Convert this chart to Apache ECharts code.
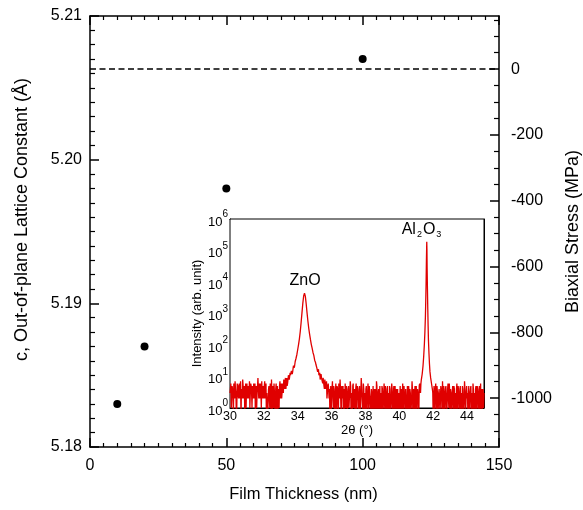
<!DOCTYPE html>
<html>
<head>
<meta charset="utf-8">
<script src="https://cdn.jsdelivr.net/npm/echarts@6/dist/echarts.min.js"></script>
<style>
html,body{margin:0;padding:0;background:#fff;overflow:hidden;}
#chart{width:583px;height:510px;}
</style>
</head>
<body>
<div id="chart"></div>
<script>
// Main chart data
const filmThickness = [10, 20, 50, 100];          // nm
const latticeC = [5.183, 5.187, 5.198, 5.207];     // Angstrom
const xTicks = [0, 50, 100, 150];
const cTicks = [5.18, 5.19, 5.20, 5.21];
const stressTicks = [-1000, -800, -600, -400, -200, 0];
const stressMinorTicks = [-1100, -1050, -950, -900, -850, -750, -700, -650, -550, -500, -450, -350, -300, -250, -150, -100, -50, 50, 100, 150];
const stressZeroLine = [0];
// stress axis range corresponding to c = 5.18 .. 5.21
const stressRange = [-1148.5, 161.6];

// Inset: XRD scan [2theta (deg), intensity (counts)]
const xrdScan = [
[30.00,3],[30.05,6],[30.10,2],[30.15,5],[30.20,0.5],[30.25,4],[30.30,7],[30.35,3],[30.40,1],[30.45,5],
[30.50,2],[30.55,6],[30.60,4],[30.65,0.5],[30.70,3],[30.75,8],[30.80,2],[30.85,5],[30.90,3],[30.95,1],
[31.00,6],[31.05,4],[31.10,2],[31.15,7],[31.20,3],[31.25,5],[31.30,1],[31.35,4],[31.40,6],[31.45,2],
[31.50,0.5],[31.55,5],[31.60,3],[31.65,9],[31.70,2],[31.75,4],[31.80,6],[31.85,1],[31.90,3],[31.95,5],
[32.00,2],[32.05,7],[32.10,4],[32.15,0.5],[32.20,3],[32.25,0.5],[32.30,5],[32.35,1],[32.40,4],[32.45,8],
[32.50,0.5],[32.55,2],[32.60,6],[32.65,1],[32.70,4],[32.75,0.5],[32.80,5],[32.85,3],[32.90,1],[32.95,7],
[33.00,4],[33.05,2],[33.10,6],[33.15,3],[33.20,5],
[33.25,7],[33.30,4],[33.35,9],[33.40,6],[33.45,11],[33.50,8],[33.55,13],[33.60,10],[33.65,17],[33.70,14],
[33.75,22],[33.80,19],[33.85,30],[33.90,38],[33.95,50],[34.00,72],[34.05,105],[34.10,160],[34.15,270],[34.20,520],
[34.25,1050],[34.30,2100],[34.35,3600],[34.40,4400],[34.45,3500],[34.50,2000],[34.55,1050],[34.60,580],[34.65,340],[34.70,220],
[34.75,150],[34.80,105],[34.85,80],[34.90,58],[34.95,47],[35.00,33],[35.05,28],[35.10,22],[35.15,18],[35.20,15],
[35.25,11],[35.30,13],[35.35,9],[35.40,11],[35.45,7],[35.50,9],[35.55,5],[35.60,8],[35.65,4],[35.70,7],
[35.75,3],[35.80,6],
[35.85,2],[35.90,0.5],[35.95,5],[36.00,3],[36.05,7],[36.10,1],[36.15,4],[36.20,0.5],[36.25,6],[36.30,2],
[36.35,4],[36.40,0.5],[36.45,3],[36.50,8],[36.55,1],[36.60,5],[36.65,2],[36.70,0.5],[36.75,4],[36.80,6],
[36.85,1],[36.90,3],[36.95,0.5],[37.00,5],[37.05,2],[37.10,7],[37.15,0.5],[37.20,3],[37.25,5],[37.30,1],
[37.35,4],[37.40,0.5],[37.45,6],[37.50,2],[37.55,3],[37.60,0.5],[37.65,5],[37.70,1],[37.75,9],[37.80,2],
[37.85,0.5],[37.90,4],[37.95,3],[38.00,0.5],[38.05,5],[38.10,2],[38.15,6],[38.20,0.5],[38.25,3],[38.30,1],
[38.35,4],[38.40,0.5],[38.45,5],[38.50,2],[38.55,0.5],[38.60,4],[38.65,7],[38.70,1],[38.75,3],[38.80,0.5],
[38.85,5],[38.90,2],[38.95,0.5],[39.00,4],[39.05,1],[39.10,6],[39.15,0.5],[39.20,3],[39.25,0.5],[39.30,5],
[39.35,2],[39.40,0.5],[39.45,4],[39.50,1],[39.55,6],[39.60,0.5],[39.65,3],[39.70,0.5],[39.75,5],[39.80,2],
[39.85,0.5],[39.90,4],[39.95,1],[40.00,0.5],[40.05,5],[40.10,2],[40.15,0.5],[40.20,6],[40.25,1],[40.30,3],
[40.35,0.5],[40.40,4],[40.45,0.5],[40.50,2],[40.55,5],[40.60,0.5],[40.65,3],[40.70,1],[40.75,7],[40.80,0.5],
[40.85,4],[40.90,2],[40.95,0.5],[41.00,5],[41.05,1],[41.10,3],[41.15,0.5],[41.20,6],[41.25,3],
[41.30,8],[41.35,12],[41.40,22],[41.44,45],[41.48,110],[41.51,260],[41.54,800],[41.56,2500],[41.58,9000],[41.60,50000],
[41.62,190000],[41.63,110000],[41.64,30000],[41.66,6000],[41.68,1400],[41.70,400],[41.72,140],[41.75,55],[41.78,25],[41.81,14],
[41.85,9],[41.90,6],[41.95,4],
[42.00,0.5],[42.05,5],[42.10,2],[42.15,6],[42.20,0.5],[42.25,3],[42.30,1],[42.35,4],[42.40,0.5],[42.45,5],
[42.50,2],[42.55,7],[42.60,0.5],[42.65,3],[42.70,1],[42.75,5],[42.80,0.5],[42.85,4],[42.90,2],[42.95,6],
[43.00,0.5],[43.05,3],[43.10,1],[43.15,5],[43.20,0.5],[43.25,4],[43.30,2],[43.35,0.5],[43.40,6],[43.45,1],
[43.50,3],[43.55,0.5],[43.60,5],[43.65,2],[43.70,0.5],[43.75,4],[43.80,1],[43.85,7],[43.90,0.5],[43.95,3],
[44.00,2],[44.05,0.5],[44.10,5],[44.15,1],[44.20,4],[44.25,0.5],[44.30,3],[44.35,6],[44.40,0.5],[44.45,2],
[44.50,4],[44.55,0.5],[44.60,5],[44.65,1],[44.70,3],[44.75,0.5],[44.80,6],[44.85,2],[44.90,0.5],[44.95,4],
[45.00,3]
];
// Additional scan points between the above (same scan, interleaved readings)
const xrdScanBetween = [
[30.025,4],[30.075,1],[30.125,5],[30.175,3],[30.225,6],[30.275,2],[30.325,4],[30.375,0.5],[30.425,6],[30.475,3],
[30.525,5],[30.575,2],[30.625,7],[30.675,4],[30.725,2],[30.775,5],[30.825,3],[30.875,0.5],[30.925,6],[30.975,4],
[31.025,2],[31.075,5],[31.125,3],[31.175,1],[31.225,6],[31.275,3],[31.325,5],[31.375,2],[31.425,4],[31.475,6],
[31.525,3],[31.575,1],[31.625,5],[31.675,4],[31.725,6],[31.775,2],[31.825,3],[31.875,7],[31.925,2],[31.975,4],
[32.025,5],[32.075,2],[32.125,6],[32.175,3],[32.225,0.5],[32.275,4],[32.325,2],[32.375,6],[32.425,0.5],[32.475,3],
[32.525,5],[32.575,1],[32.625,3],[32.675,0.5],[32.725,6],[32.775,2],[32.825,0.5],[32.875,4],[32.925,5],[32.975,2],
[33.025,6],[33.075,3],[33.125,5],[33.175,8],[33.225,4],[33.275,9],[33.325,6],[33.375,5],[33.425,8],[33.475,12],
[33.525,9],[33.575,11],[33.625,15],[33.675,12],[33.725,18],[33.775,25],
[35.025,30],[35.075,24],[35.125,19],[35.175,14],[35.225,17],[35.275,10],[35.325,8],[35.375,12],[35.425,8],[35.475,6],
[35.525,8],[35.575,4],[35.625,6],[35.675,5],[35.725,2],[35.775,5],[35.825,4],
[35.875,4],[35.925,2],[35.975,0.5],[36.025,4],[36.075,2],[36.125,5],[36.175,0.5],[36.225,3],[36.275,0.5],[36.325,5],
[36.375,1],[36.425,6],[36.475,2],[36.525,4],[36.575,0.5],[36.625,3],[36.675,5],[36.725,2],[36.775,0.5],[36.825,3],
[36.875,5],[36.925,0.5],[36.975,4],[37.025,1],[37.075,3],[37.125,5],[37.175,2],[37.225,0.5],[37.275,6],[37.325,3],
[37.375,1],[37.425,4],[37.475,0.5],[37.525,5],[37.575,2],[37.625,4],[37.675,0.5],[37.725,3],[37.775,5],[37.825,1],
[37.875,6],[37.925,0.5],[37.975,2],[38.025,4],[38.075,0.5],[38.125,3],[38.175,1],[38.225,5],[38.275,2],[38.325,0.5],
[38.375,3],[38.425,1],[38.475,0.5],[38.525,4],[38.575,3],[38.625,0.5],[38.675,5],[38.725,0.5],[38.775,4],[38.825,2],
[38.875,0.5],[38.925,3],[38.975,5],[39.025,0.5],[39.075,3],[39.125,2],[39.175,5],[39.225,1],[39.275,4],[39.325,0.5],
[39.375,3],[39.425,5],[39.475,0.5],[39.525,2],[39.575,4],[39.625,1],[39.675,5],[39.725,3],[39.775,0.5],[39.825,4],
[39.875,2],[39.925,0.5],[39.975,3],[40.025,2],[40.075,0.5],[40.125,4],[40.175,3],[40.225,0.5],[40.275,5],[40.325,2],
[40.375,4],[40.425,1],[40.475,5],[40.525,0.5],[40.575,3],[40.625,4],[40.675,0.5],[40.725,2],[40.775,4],[40.825,1],
[40.875,0.5],[40.925,5],[40.975,3],[41.025,0.5],[41.075,4],[41.125,2],[41.175,5],[41.225,4],[41.275,6],
[41.975,3],[42.025,2],[42.075,0.5],[42.125,4],[42.175,1],[42.225,5],[42.275,0.5],[42.325,3],[42.375,2],[42.425,0.5],
[42.475,4],[42.525,0.5],[42.575,3],[42.625,5],[42.675,0.5],[42.725,4],[42.775,2],[42.825,0.5],[42.875,6],[42.925,1],
[42.975,3],[43.025,4],[43.075,0.5],[43.125,3],[43.175,2],[43.225,5],[43.275,0.5],[43.325,3],[43.375,4],[43.425,0.5],
[43.475,5],[43.525,2],[43.575,4],[43.625,0.5],[43.675,3],[43.725,5],[43.775,0.5],[43.825,2],[43.875,4],[43.925,1],
[43.975,5],[44.025,3],[44.075,2],[44.125,0.5],[44.175,3],[44.225,5],[44.275,2],[44.325,0.5],[44.375,4],[44.425,3],
[44.475,0.5],[44.525,5],[44.575,2],[44.625,4],[44.675,0.5],[44.725,5],[44.775,2],[44.825,0.5],[44.875,4],[44.925,3],
[44.975,1]
];
const insetXTicks = [30, 32, 34, 36, 38, 40, 42, 44];
const insetYTicks = [1, 10, 100, 1000, 10000, 100000, 1000000];
const peakLabels = [
  {name: 'ZnO', coord: [34.43, 1.07e4]},
  {name: 'Al2O3', coord: [41.34, 4.5e5]}
];

const FONT = "'Liberation Sans', Arial, sans-serif";
const BLACK = '#000';

const xrdData = xrdScan.concat(xrdScanBetween).sort((a, b) => a[0] - b[0]);

// minor log ticks
const logMinor = [];
for (let d = 0; d < 6; d++) {
  for (let m = 2; m <= 9; m++) logMinor.push(m * Math.pow(10, d));
}

const chart = echarts.init(document.getElementById('chart'), null, {renderer: 'canvas', width: 583, height: 510});

const lineStyle = {color: BLACK, width: 1.5};

const option = {
  backgroundColor: '#fff',
  animation: false,
  textStyle: {fontFamily: FONT, color: BLACK},
  grid: [
    {left: 90, right: 84, top: 16, bottom: 63, containLabel: false, outerBoundsMode: 'none'},
    {left: 230, top: 219, width: 254, height: 189, show: true, backgroundColor: '#fff', borderColor: BLACK, borderWidth: 1, z: 5, containLabel: false, outerBoundsMode: 'none'}
  ],
  xAxis: [
    {
      gridIndex: 0, type: 'value', position: 'bottom', min: xTicks[0], max: xTicks[xTicks.length - 1], interval: 50,
      axisLine: {show: true, onZero: false, lineStyle: lineStyle},
      axisTick: {show: true, inside: true, length: 9, lineStyle: lineStyle},
      minorTick: {show: true, splitNumber: 10, length: 4, lineStyle: {color: BLACK, width: 1.2}},
      axisLabel: {fontSize: 16, color: BLACK, margin: 11, fontFamily: FONT},
      splitLine: {show: false},
      name: 'Film Thickness (nm)', nameLocation: 'middle', nameGap: 39,
      nameTextStyle: {fontSize: 16.5, color: BLACK, fontFamily: FONT, padding: [0, 0, 0, 18]}
    },
    {
      gridIndex: 0, type: 'value', position: 'top', min: 0, max: 150, interval: 50,
      axisLine: {show: true, onZero: false, lineStyle: lineStyle},
      axisTick: {show: true, inside: true, length: 9, lineStyle: lineStyle},
      minorTick: {show: true, splitNumber: 10, length: 4, lineStyle: {color: BLACK, width: 1.2}},
      axisLabel: {show: false}, splitLine: {show: false}
    },
    {
      gridIndex: 1, type: 'value', position: 'bottom', min: 30, max: 45, interval: 2,
      axisLine: {show: true, onZero: false, lineStyle: {color: BLACK, width: 1}},
      axisTick: {show: true, inside: true, length: 4, lineStyle: {color: BLACK, width: 1}},
      minorTick: {show: true, splitNumber: 2, length: 4, lineStyle: {color: BLACK, width: 1}},
      axisLabel: {fontSize: 12.5, color: BLACK, margin: 2, fontFamily: FONT, customValues: insetXTicks},
      splitLine: {show: false},
      name: '2θ (°)', nameLocation: 'middle', nameGap: 14,
      nameTextStyle: {fontSize: 13, color: BLACK, fontFamily: FONT}
    },
    {
      gridIndex: 1, type: 'value', position: 'top', min: 30, max: 45, interval: 2,
      axisLine: {show: true, onZero: false, lineStyle: {color: BLACK, width: 1}},
      axisTick: {show: true, inside: true, length: 4, lineStyle: {color: BLACK, width: 1}},
      minorTick: {show: true, splitNumber: 2, length: 4, lineStyle: {color: BLACK, width: 1}},
      axisLabel: {show: false}, splitLine: {show: false}
    }
  ],
  yAxis: [
    {
      gridIndex: 0, type: 'value', position: 'left', min: cTicks[0], max: cTicks[cTicks.length - 1], interval: 0.01,
      axisLine: {show: true, onZero: false, lineStyle: lineStyle},
      axisTick: {show: true, inside: true, length: 9, lineStyle: lineStyle},
      minorTick: {show: true, splitNumber: 10, length: 5, lineStyle: {color: BLACK, width: 1.2}},
      axisLabel: {fontSize: 16, color: BLACK, margin: 8, fontFamily: FONT, formatter: v => v.toFixed(2)},
      splitLine: {show: false},
      name: 'c, Out-of-plane Lattice Constant (Å)', nameLocation: 'middle', nameRotate: 90, nameGap: 59,
      nameTextStyle: {fontSize: 18, color: BLACK, fontFamily: FONT, padding: [0, 0, 0, 24]}
    },
    {
      gridIndex: 0, type: 'value', position: 'right', min: stressRange[0], max: stressRange[1],
      axisLine: {show: true, onZero: false, lineStyle: lineStyle},
      axisTick: {show: true, inside: true, length: 9, lineStyle: lineStyle, customValues: stressTicks},
      axisLabel: {fontSize: 16, color: BLACK, margin: 12, fontFamily: FONT, customValues: stressTicks, formatter: v => String(v)},
      splitLine: {show: false},
      name: 'Biaxial Stress (MPa)', nameLocation: 'middle', nameRotate: 90, nameGap: 65,
      nameTextStyle: {fontSize: 18, color: BLACK, fontFamily: FONT}
    },
    {
      gridIndex: 0, type: 'value', position: 'right', min: stressRange[0], max: stressRange[1],
      axisLine: {show: false, onZero: false},
      axisTick: {show: true, inside: true, length: 5, lineStyle: {color: BLACK, width: 1.2}, customValues: stressMinorTicks},
      axisLabel: {show: false}, splitLine: {show: false}
    },
    {
      gridIndex: 1, type: 'log', logBase: 10, position: 'left', min: 1, max: 1e6,
      axisLine: {show: true, onZero: false, lineStyle: {color: BLACK, width: 1}},
      axisTick: {show: true, inside: true, length: 5, lineStyle: {color: BLACK, width: 1}, customValues: insetYTicks},
      axisLabel: {
        color: BLACK, margin: 2, fontFamily: FONT, customValues: insetYTicks,
        formatter: v => '{b|10}{s|' + Math.round(Math.log10(v)) + '}',
        rich: {
          b: {fontSize: 13, fontFamily: FONT, color: BLACK, verticalAlign: 'bottom'},
          s: {fontSize: 10, fontFamily: FONT, color: BLACK, verticalAlign: 'top', padding: [0, 0, 9, 0]}
        }
      },
      splitLine: {show: false},
      name: 'Intensity (arb. unit)', nameLocation: 'middle', nameRotate: 90, nameGap: 20,
      nameTextStyle: {fontSize: 13, color: BLACK, fontFamily: FONT}
    },
    {
      gridIndex: 1, type: 'log', logBase: 10, position: 'left', min: 1, max: 1e6,
      axisLine: {show: false, onZero: false},
      axisTick: {show: true, inside: true, length: 3, lineStyle: {color: BLACK, width: 0.8}, customValues: logMinor},
      axisLabel: {show: false}, splitLine: {show: false}
    },
    {
      gridIndex: 1, type: 'log', logBase: 10, position: 'right', min: 1, max: 1e6,
      axisLine: {show: true, onZero: false, lineStyle: {color: BLACK, width: 1}},
      axisTick: {show: true, inside: true, length: 5, lineStyle: {color: BLACK, width: 1}, customValues: insetYTicks},
      axisLabel: {show: false}, splitLine: {show: false}
    },
    {
      gridIndex: 1, type: 'log', logBase: 10, position: 'right', min: 1, max: 1e6,
      axisLine: {show: false, onZero: false},
      axisTick: {show: true, inside: true, length: 3, lineStyle: {color: BLACK, width: 0.8}, customValues: logMinor},
      axisLabel: {show: false}, splitLine: {show: false}
    }
  ],
  series: [
    {
      type: 'scatter', xAxisIndex: 0, yAxisIndex: 0,
      data: filmThickness.map((t, i) => [t, latticeC[i]]),
      symbol: 'circle', symbolSize: 8,
      itemStyle: {color: BLACK, opacity: 1}, z: 3
    },
    {
      type: 'line', xAxisIndex: 0, yAxisIndex: 1, data: [], silent: true,
      markLine: {
        silent: true, symbol: ['none', 'none'], label: {show: false},
        lineStyle: {color: BLACK, width: 1.5, type: [6, 3.5]},
        data: stressZeroLine.map(v => ({yAxis: v}))
      }
    },
    {
      type: 'line', xAxisIndex: 2, yAxisIndex: 3,
      data: xrdData, showSymbol: false, symbol: 'none', clip: true,
      lineStyle: {color: '#e00000', width: 1.3}, z: 10,
      markPoint: {
        symbol: 'circle', symbolSize: 0, silent: true,
        label: {
          show: true, position: 'inside', color: BLACK, fontFamily: FONT,
          formatter: p => p.name === 'ZnO' ? '{n|ZnO}' : '{n|Al}{sub|2}{n|O}{sub|3}',
          rich: {
            n: {fontSize: 16, fontFamily: FONT, color: BLACK},
            sub: {fontSize: 9, fontFamily: FONT, color: BLACK, padding: [10, 1, 0, 1]}
          }
        },
        data: peakLabels
      }
    }
  ]
};
chart.setOption(option);
</script>
</body>
</html>
